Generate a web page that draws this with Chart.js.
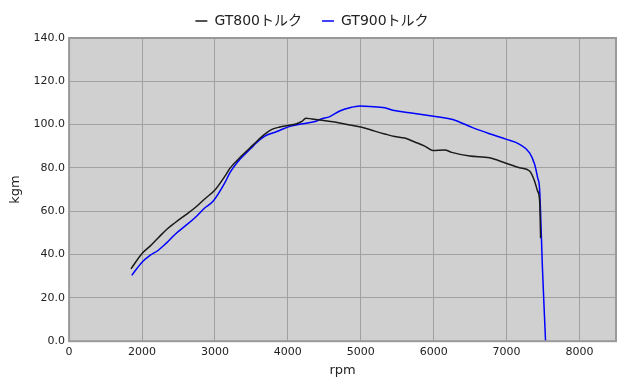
<!DOCTYPE html>
<html>
<head>
<meta charset="utf-8">
<script src="https://cdn.jsdelivr.net/npm/chart.js@4"></script>
<style>
  body { margin: 0; background: #fff; }
  #wrap { width: 640px; height: 385px; }
</style>
</head>
<body>
<div id="wrap"><canvas id="torqueChart"></canvas></div>
<script>
const seriesNames = ['GT800トルク', 'GT900トルク'];

const gt800Rpm = [1849, 2000, 2110, 2224, 2337, 2452, 2589, 2726, 2863, 3000, 3137, 3205, 3342, 3479, 3589, 3671, 3781, 3890, 4000, 4110, 4192, 4247, 4329, 4438, 4644, 4849, 5000, 5192, 5329, 5466, 5603, 5740, 5877, 5987, 6151, 6247, 6494, 6767, 6973, 7178, 7315, 7384, 7425, 7453, 7466];
const gt800Torque = [33.4, 40.5, 43.9, 47.8, 51.6, 54.7, 58.1, 61.6, 65.8, 69.8, 76.2, 79.8, 84.8, 89.2, 92.8, 95.3, 97.8, 98.9, 99.6, 100.3, 101.5, 103.0, 102.6, 102.1, 101.2, 99.8, 98.9, 97.0, 95.7, 94.5, 93.8, 92.0, 90.1, 88.1, 88.3, 87.2, 85.5, 84.7, 82.4, 80.1, 78.6, 73.9, 69.3, 64.7, 47.6];

const gt900Rpm = [1859, 2000, 2110, 2224, 2337, 2452, 2589, 2726, 2863, 2977, 3137, 3206, 3343, 3480, 3616, 3685, 3850, 4027, 4206, 4398, 4439, 4576, 4713, 4850, 4987, 5123, 5329, 5439, 5671, 5905, 6260, 6534, 6767, 7000, 7178, 7315, 7384, 7425, 7452, 7493, 7534];
const gt900Torque = [30.4, 36.5, 39.6, 42.0, 45.4, 49.3, 53.1, 57.0, 61.6, 64.7, 73.2, 77.8, 84.0, 88.6, 93.0, 94.7, 96.8, 99.2, 100.4, 101.7, 102.4, 103.7, 106.3, 107.8, 108.6, 108.4, 107.8, 106.6, 105.5, 104.3, 102.4, 98.6, 95.8, 93.2, 90.9, 87.0, 81.7, 75.5, 70.2, 32.3, 0];

const xTickValues = [1000, 2000, 3000, 4000, 5000, 6000, 7000, 8000];
const xTickLabels = ['0', '2000', '3000', '4000', '5000', '6000', '7000', '8000'];

const fontFamily = '"DejaVu Sans", "Noto Sans CJK JP", sans-serif';

function toPoints(xs, ys) {
    return xs.map(function (x, i) { return { x: x, y: ys[i] }; });
}

// grey plot background and frame
const plotFrame = {
    id: 'plotFrame',
    beforeDraw: function (chart) {
        const a = chart.chartArea;
        const ctx = chart.ctx;
        ctx.save();
        ctx.fillStyle = '#d0d0d0';
        ctx.fillRect(a.left, a.top, a.right - a.left, a.bottom - a.top);
        ctx.restore();
    },
    afterDatasetsDraw: function (chart) {
        const a = chart.chartArea;
        const ctx = chart.ctx;
        ctx.save();
        ctx.strokeStyle = '#999999';
        ctx.lineWidth = 2;
        ctx.strokeRect(a.left, a.top, a.right - a.left, a.bottom - a.top);
        ctx.restore();
    }
};

new Chart(document.querySelector('#torqueChart'), {
    type: 'line',
    data: {
        datasets: [{
            label: seriesNames[0],
            data: toPoints(gt800Rpm, gt800Torque),
            borderColor: '#1a1a1a',
            backgroundColor: '#1a1a1a',
            borderWidth: 1.5,
            pointRadius: 0,
            cubicInterpolationMode: 'monotone'
        }, {
            label: seriesNames[1],
            data: toPoints(gt900Rpm, gt900Torque),
            borderColor: '#0000ff',
            backgroundColor: '#0000ff',
            borderWidth: 1.5,
            pointRadius: 0,
            cubicInterpolationMode: 'monotone'
        }]
    },
    options: {
        responsive: true,
        maintainAspectRatio: false,
        animation: false,
        layout: { padding: { left: 8, right: 24, top: -6, bottom: 3 } },
        plugins: {
            legend: {
                position: 'top',
                labels: {
                    usePointStyle: true,
                    pointStyle: 'line',
                    pointStyleWidth: 12,
                    boxWidth: 12,
                    color: '#222',
                    font: { family: fontFamily, size: 14 },
                    padding: 20
                }
            },
            tooltip: { enabled: false }
        },
        scales: {
            x: {
                type: 'linear',
                min: 1000,
                max: 8500,
                afterBuildTicks: function (scale) {
                    scale.ticks = xTickValues.map(function (v) { return { value: v }; });
                },
                ticks: {
                    color: '#222',
                    font: { family: fontFamily, size: 11 },
                    maxRotation: 0,
                    padding: 4,
                    callback: function (value) {
                        const i = xTickValues.indexOf(value);
                        return i >= 0 ? xTickLabels[i] : '';
                    }
                },
                grid: { color: '#a0a0a0', lineWidth: 1, drawTicks: false },
                border: { display: false },
                title: {
                    display: true,
                    text: 'rpm',
                    color: '#222',
                    font: { family: fontFamily, size: 13 },
                    padding: { top: 0, bottom: 4 }
                }
            },
            y: {
                min: 0,
                max: 140,
                ticks: {
                    stepSize: 20,
                    color: '#222',
                    font: { family: fontFamily, size: 11 },
                    padding: 4,
                    callback: function (value) { return value.toFixed(1); }
                },
                grid: { color: '#a0a0a0', lineWidth: 1, drawTicks: false },
                border: { display: false },
                title: {
                    display: true,
                    text: 'kgm',
                    color: '#222',
                    font: { family: fontFamily, size: 13 },
                    padding: { top: 0, bottom: 6 }
                }
            }
        }
    },
    plugins: [plotFrame]
});
</script>
</body>
</html>
